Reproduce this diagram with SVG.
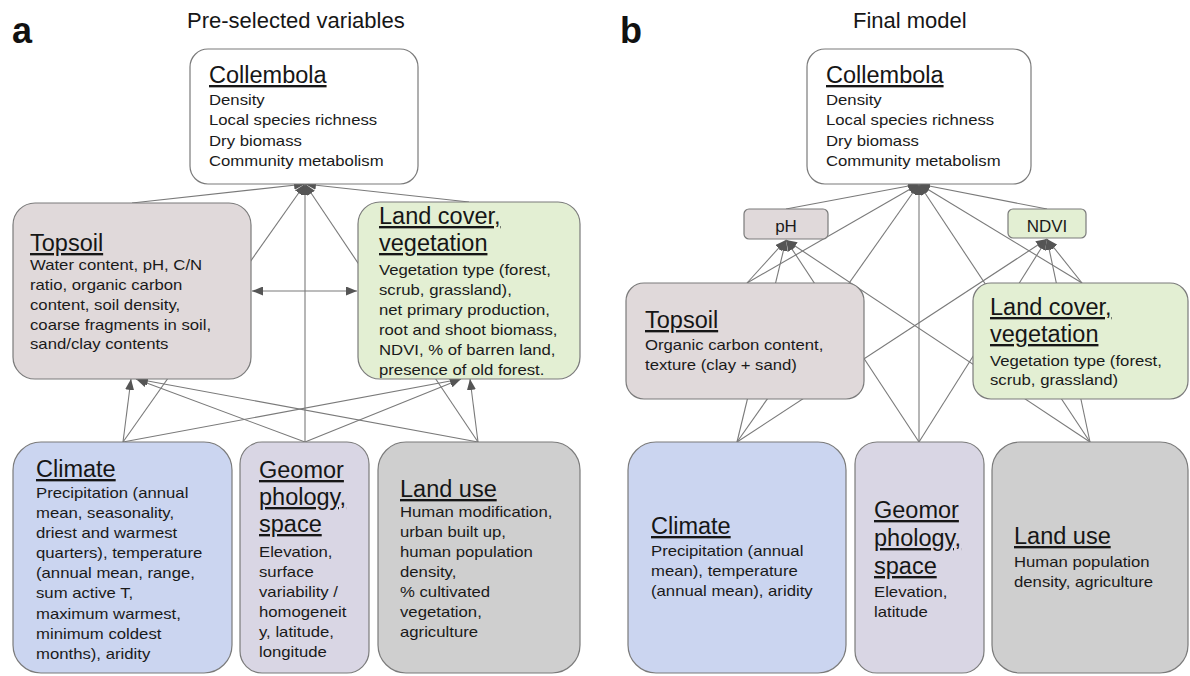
<svg xmlns="http://www.w3.org/2000/svg" width="1190" height="676" viewBox="0 0 1190 676">
<defs>
<marker id="ah" viewBox="0 0 11 9" refX="11" refY="4.5" markerWidth="11" markerHeight="9" markerUnits="userSpaceOnUse" orient="auto-start-reverse">
<path d="M0,0 L11,4.5 L0,9 z" fill="#555555"/>
</marker>
<style>
.box{stroke:#7b7b7b;stroke-width:1.2}
.white{fill:#ffffff}
.soil{fill:#e0d9da}
.veg{fill:#e3efd3}
.clim{fill:#cbd5f0}
.geo{fill:#d9d6e4}
.use{fill:#cfcfcf}
.ttl{font-family:"Liberation Sans",Arial,sans-serif;font-size:23.5px;text-decoration:underline;fill:#161616}
.body{font-family:"Liberation Sans",Arial,sans-serif;font-size:14.8px;fill:#1a1a1a}
.small{font-family:"Liberation Sans",Arial,sans-serif;font-size:17px;fill:#1a1a1a;text-anchor:middle}
.head{font-family:"Liberation Sans",Arial,sans-serif;font-size:22px;fill:#161616}
.panel{font-family:"Liberation Sans",Arial,sans-serif;font-size:36px;font-weight:bold;fill:#111111}
.conn line{stroke:#7a7a7a;stroke-width:1.1;fill:none}
.conn .a{marker-end:url(#ah)}
</style>
</defs>
<rect width="1190" height="676" fill="#ffffff"/>

<text class="panel" x="12" y="43">a</text>
<text class="head" x="187" y="28">Pre-selected variables</text>
<text class="panel" x="620" y="43">b</text>
<text class="head" x="853" y="28">Final model</text>

<g id="connectors" class="conn">
<!-- panel a -->
<line class="a" x1="132" y1="203" x2="305" y2="184"/>
<line class="a" x1="469" y1="202" x2="305" y2="184"/>
<line class="a" x1="123" y1="442" x2="305" y2="184"/>
<line class="a" x1="305" y1="442" x2="305" y2="184"/>
<line class="a" x1="478" y1="442" x2="305" y2="184"/>
<line class="a" x1="123" y1="442" x2="131" y2="379"/>
<line class="a" x1="305" y1="442" x2="136" y2="379"/>
<line class="a" x1="478" y1="442" x2="137" y2="379"/>
<line class="a" x1="123" y1="442" x2="461" y2="379"/>
<line class="a" x1="305" y1="442" x2="461" y2="379"/>
<line class="a" x1="478" y1="442" x2="470" y2="379"/>
<line x1="252" y1="291" x2="357" y2="291" marker-start="url(#ah)" marker-end="url(#ah)"/>
<!-- panel b -->
<line class="a" x1="786" y1="209" x2="919" y2="184"/>
<line class="a" x1="1047" y1="209" x2="919" y2="184"/>
<line class="a" x1="747" y1="283" x2="919" y2="184"/>
<line class="a" x1="1082" y1="283" x2="919" y2="184"/>
<line class="a" x1="737" y1="442" x2="919" y2="184"/>
<line class="a" x1="919" y1="442" x2="919" y2="184"/>
<line class="a" x1="1090" y1="442" x2="919" y2="184"/>
<line class="a" x1="747" y1="283" x2="786" y2="240"/>
<line class="a" x1="737" y1="442" x2="786" y2="240"/>
<line class="a" x1="919" y1="442" x2="786" y2="240"/>
<line class="a" x1="1090" y1="442" x2="786" y2="240"/>
<line class="a" x1="1082" y1="283" x2="1047" y2="239"/>
<line class="a" x1="737" y1="442" x2="1047" y2="239"/>
<line class="a" x1="919" y1="442" x2="1047" y2="239"/>
<line class="a" x1="1090" y1="442" x2="1047" y2="239"/>
</g>

<!-- panel a nodes -->
<g id="a-collembola">
<rect class="box white" x="190" y="49" width="228" height="135" rx="18"/>
<text class="ttl" x="209" y="83">Collembola</text>
<text class="body" transform="translate(209,105) scale(1.13,1)"><tspan x="0" y="0">Density</tspan><tspan x="0" y="20.5">Local species richness</tspan><tspan x="0" y="41">Dry biomass</tspan><tspan x="0" y="61.5">Community metabolism</tspan></text>
</g>
<g id="a-topsoil">
<rect class="box soil" x="13" y="203" width="238" height="176" rx="22"/>
<text class="ttl" x="30" y="251">Topsoil</text>
<text class="body" transform="translate(30,270) scale(1.13,1)"><tspan x="0" y="0">Water content, pH, C/N</tspan><tspan x="0" y="20">ratio, organic carbon</tspan><tspan x="0" y="40">content, soil density,</tspan><tspan x="0" y="60">coarse fragments in soil,</tspan><tspan x="0" y="79.5">sand/clay contents</tspan></text>
</g>
<g id="a-landcover">
<rect class="box veg" x="358" y="202" width="222" height="177" rx="22"/>
<text class="ttl" x="379" y="224">Land cover,</text>
<text class="ttl" x="379" y="251">vegetation</text>
<text class="body" transform="translate(379,275) scale(1.13,1)"><tspan x="0" y="0">Vegetation type (forest,</tspan><tspan x="0" y="20">scrub, grassland),</tspan><tspan x="0" y="40">net primary production,</tspan><tspan x="0" y="60">root and shoot biomass,</tspan><tspan x="0" y="80">NDVI, % of barren land,</tspan><tspan x="0" y="100">presence of old forest.</tspan></text>
</g>
<g id="a-climate">
<rect class="box clim" x="13" y="442" width="219" height="231" rx="28"/>
<text class="ttl" x="36" y="477">Climate</text>
<text class="body" transform="translate(36,498) scale(1.13,1)"><tspan x="0" y="0">Precipitation (annual</tspan><tspan x="0" y="20.1">mean, seasonality,</tspan><tspan x="0" y="40.2">driest and warmest</tspan><tspan x="0" y="60.3">quarters), temperature</tspan><tspan x="0" y="80.4">(annual mean, range,</tspan><tspan x="0" y="100.5">sum active T,</tspan><tspan x="0" y="120.6">maximum warmest,</tspan><tspan x="0" y="140.7">minimum coldest</tspan><tspan x="0" y="160.8">months), aridity</tspan></text>
</g>
<g id="a-geomorphology">
<rect class="box geo" x="240" y="442" width="129" height="231" rx="22"/>
<text class="ttl" x="259" y="478">Geomor</text>
<text class="ttl" x="259" y="505">phology,</text>
<text class="ttl" x="259" y="532">space</text>
<text class="body" transform="translate(259,557) scale(1.13,1)"><tspan x="0" y="0">Elevation,</tspan><tspan x="0" y="20">surface</tspan><tspan x="0" y="40">variability /</tspan><tspan x="0" y="60">homogeneit</tspan><tspan x="0" y="80">y, latitude,</tspan><tspan x="0" y="100">longitude</tspan></text>
</g>
<g id="a-landuse">
<rect class="box use" x="378" y="442" width="202" height="231" rx="28"/>
<text class="ttl" x="400" y="497">Land use</text>
<text class="body" transform="translate(400,517) scale(1.13,1)"><tspan x="0" y="0">Human modification,</tspan><tspan x="0" y="20">urban built up,</tspan><tspan x="0" y="40">human population</tspan><tspan x="0" y="60">density,</tspan><tspan x="0" y="80">% cultivated</tspan><tspan x="0" y="100">vegetation,</tspan><tspan x="0" y="120">agriculture</tspan></text>
</g>

<!-- panel b nodes -->
<g id="b-collembola">
<rect class="box white" x="807" y="49" width="224" height="135" rx="18"/>
<text class="ttl" x="826" y="83">Collembola</text>
<text class="body" transform="translate(826,105) scale(1.13,1)"><tspan x="0" y="0">Density</tspan><tspan x="0" y="20.5">Local species richness</tspan><tspan x="0" y="41">Dry biomass</tspan><tspan x="0" y="61.5">Community metabolism</tspan></text>
</g>
<g id="b-ph">
<rect class="box soil" x="744" y="209" width="84" height="30" rx="5"/>
<text class="small" x="786" y="232">pH</text>
</g>
<g id="b-ndvi">
<rect class="box veg" x="1008" y="209" width="78" height="29" rx="5"/>
<text class="small" x="1047" y="232">NDVI</text>
</g>
<g id="b-topsoil">
<rect class="box soil" x="626" y="283" width="238" height="116" rx="18"/>
<text class="ttl" x="645" y="328">Topsoil</text>
<text class="body" transform="translate(645,350) scale(1.13,1)"><tspan x="0" y="0">Organic carbon content,</tspan><tspan x="0" y="20">texture (clay + sand)</tspan></text>
</g>
<g id="b-landcover">
<rect class="box veg" x="973" y="283" width="215" height="116" rx="18"/>
<text class="ttl" x="990" y="315">Land cover,</text>
<text class="ttl" x="990" y="342">vegetation</text>
<text class="body" transform="translate(990,366) scale(1.13,1)"><tspan x="0" y="0">Vegetation type (forest,</tspan><tspan x="0" y="19.5">scrub, grassland)</tspan></text>
</g>
<g id="b-climate">
<rect class="box clim" x="628" y="442" width="218" height="231" rx="28"/>
<text class="ttl" x="651" y="534">Climate</text>
<text class="body" transform="translate(651,556) scale(1.13,1)"><tspan x="0" y="0">Precipitation (annual</tspan><tspan x="0" y="20">mean), temperature</tspan><tspan x="0" y="40">(annual mean), aridity</tspan></text>
</g>
<g id="b-geomorphology">
<rect class="box geo" x="855" y="442" width="129" height="231" rx="22"/>
<text class="ttl" x="874" y="518">Geomor</text>
<text class="ttl" x="874" y="546">phology,</text>
<text class="ttl" x="874" y="574">space</text>
<text class="body" transform="translate(874,597) scale(1.13,1)"><tspan x="0" y="0">Elevation,</tspan><tspan x="0" y="20">latitude</tspan></text>
</g>
<g id="b-landuse">
<rect class="box use" x="992" y="442" width="196" height="231" rx="28"/>
<text class="ttl" x="1014" y="544">Land use</text>
<text class="body" transform="translate(1014,567) scale(1.13,1)"><tspan x="0" y="0">Human population</tspan><tspan x="0" y="20">density, agriculture</tspan></text>
</g>
</svg>
